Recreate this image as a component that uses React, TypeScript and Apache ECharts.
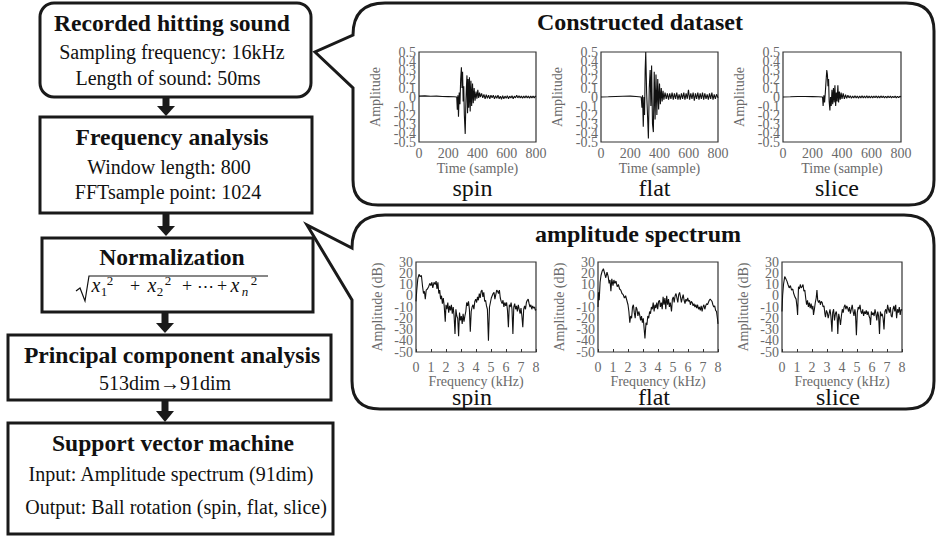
import React, { useEffect, useRef } from "react";
import * as echarts from "echarts";

// ---------- data ----------
const timeTicks = [0, 200, 400, 600, 800];
const freqTicks = [0, 1, 2, 3, 4, 5, 6, 7, 8];
const ampRange = [-0.5, 0.5];
const dbRange = [-50, 30];
const classNames = ["spin", "flat", "slice"];

const spinWave: number[][] = [[0,0.01],[40,0.012],[80,0.008],[120,0.01],[160,0.006],[200,0.004],[240,0.002],[258,0.0],[262,-0.14],[266,0.02],[270,-0.22],[275,0.05],[280,-0.08],[285,0.2],[290,0.33],[294,0.1],[298,0.28],[302,-0.05],[306,0.12],[310,-0.2],[316,-0.41],[320,-0.1],[324,0.1],[328,0.24],[332,-0.18],[336,0.2],[340,-0.12],[345,0.22],[350,-0.16],[355,0.18],[360,-0.1],[366,0.15],[371,-0.07],[377,0.1],[383,-0.04],[390,0.06],[396,-0.02],[402,0.08],[408,-0.01],[414,0.05],[420,0.0],[428,0.04],[436,-0.01],[444,0.03],[452,-0.02],[460,0.025],[468,-0.015],[476,0.02],[484,-0.02],[492,0.02],[500,-0.01],[508,0.02],[516,-0.02],[524,0.015],[532,-0.015],[540,0.02],[548,-0.02],[556,0.01],[564,-0.025],[572,0.015],[580,-0.02],[588,0.01],[596,-0.015],[604,0.015],[612,-0.02],[620,0.01],[628,-0.01],[636,0.015],[644,-0.02],[652,0.01],[660,-0.01],[668,0.02],[676,-0.01],[684,0.015],[692,-0.01],[700,0.01],[708,-0.015],[716,0.01],[724,-0.01],[732,0.015],[740,-0.01],[748,0.01],[756,-0.015],[764,0.01],[772,-0.01],[780,0.012],[788,-0.01],[796,0.01],[800,0.005]];

const flatWave: number[][] = [[0,0.0],[50,0.002],[100,0.005],[150,0.008],[200,0.01],[240,0.005],[275,0.0],[280,-0.12],[284,0.02],[289,-0.33],[294,0.0],[298,-0.2],[302,0.3],[306,0.5],[312,0.05],[318,-0.2],[324,-0.46],[330,0.1],[336,0.3],[341,-0.1],[346,0.35],[352,-0.3],[358,-0.39],[364,0.28],[370,-0.25],[376,0.25],[382,-0.2],[388,0.2],[394,-0.14],[400,0.15],[406,-0.08],[412,0.1],[418,-0.05],[424,0.07],[430,-0.03],[438,0.05],[446,-0.02],[454,0.04],[462,-0.03],[470,0.04],[478,-0.02],[486,0.05],[494,-0.03],[502,0.04],[510,-0.02],[518,0.05],[526,-0.03],[534,0.03],[542,-0.03],[550,0.04],[558,-0.02],[566,0.05],[574,-0.03],[582,0.04],[590,-0.02],[598,0.08],[606,-0.03],[614,0.04],[622,-0.02],[630,0.05],[638,-0.04],[646,0.04],[654,-0.02],[662,0.05],[670,-0.03],[678,0.04],[686,-0.02],[694,0.05],[702,-0.03],[710,0.04],[718,-0.02],[726,0.03],[734,-0.03],[742,0.04],[750,-0.02],[758,0.05],[766,-0.03],[774,0.03],[782,-0.02],[790,0.03],[800,-0.01]];

const sliceWave: number[][] = [[0,0.0],[50,0.002],[100,0.005],[150,0.006],[200,0.004],[240,0.002],[268,0.0],[272,-0.1],[277,0.02],[282,-0.06],[287,0.05],[292,0.18],[297,0.3],[301,0.25],[305,0.12],[309,0.2],[313,-0.05],[318,-0.15],[322,0.0],[327,-0.1],[332,0.08],[337,-0.08],[342,0.1],[347,-0.06],[352,0.13],[357,-0.1],[362,0.05],[367,-0.05],[372,0.13],[377,-0.06],[382,0.06],[388,-0.03],[394,0.05],[400,-0.02],[408,0.04],[416,-0.02],[424,0.025],[432,-0.015],[440,0.02],[448,-0.01],[456,0.015],[464,-0.015],[472,0.01],[480,-0.01],[488,0.015],[496,-0.01],[504,0.01],[512,-0.015],[520,0.012],[528,-0.01],[536,0.015],[544,-0.01],[552,0.01],[560,-0.012],[568,0.015],[576,-0.01],[584,0.01],[592,-0.012],[600,0.012],[608,-0.01],[616,0.01],[624,-0.008],[632,0.012],[640,-0.01],[648,0.01],[656,-0.01],[664,0.012],[672,-0.008],[680,0.01],[688,-0.01],[696,0.008],[704,-0.01],[712,0.01],[720,-0.008],[728,0.01],[736,-0.01],[744,0.008],[752,-0.008],[760,0.01],[768,-0.01],[776,0.008],[784,-0.008],[792,0.008],[800,0.0]];

const spinSpectrum: number[][] = [[0,-5],[0.05,5],[0.12,15],[0.2,19],[0.28,17],[0.36,18],[0.44,8],[0.5,2],[0.56,4],[0.62,-3],[0.68,5],[0.76,6],[0.84,8],[0.92,11],[1.0,9],[1.06,12],[1.12,7],[1.2,12],[1.28,10],[1.34,13],[1.4,6],[1.46,12],[1.52,2],[1.58,5],[1.64,-3],[1.7,0],[1.76,-7],[1.82,-2],[1.88,-9],[1.95,-23],[2.0,-8],[2.06,-12],[2.12,-6],[2.18,-15],[2.24,-9],[2.3,-13],[2.36,-8],[2.42,-16],[2.48,-10],[2.54,-18],[2.6,-34],[2.66,-12],[2.72,-18],[2.78,-20],[2.84,-36],[2.9,-15],[2.96,-22],[3.02,-18],[3.08,-25],[3.14,-16],[3.2,-23],[3.26,-18],[3.32,-14],[3.38,-6],[3.44,-9],[3.5,-5],[3.56,-12],[3.62,-32],[3.68,-14],[3.74,-10],[3.8,-8],[3.86,-12],[3.92,-5],[3.98,-3],[4.04,-6],[4.1,-1],[4.16,-4],[4.22,2],[4.28,-2],[4.34,4],[4.4,5],[4.46,-1],[4.52,3],[4.58,-5],[4.64,-4],[4.7,-9],[4.76,-12],[4.83,-40],[4.9,-10],[4.96,-6],[5.02,-2],[5.08,0],[5.14,2],[5.2,3],[5.26,-3],[5.32,1],[5.38,5],[5.44,4],[5.5,2],[5.56,5],[5.62,-2],[5.68,-5],[5.74,-7],[5.8,-4],[5.86,-10],[5.92,-6],[5.98,-9],[6.04,-6],[6.1,-13],[6.16,-28],[6.22,-8],[6.28,-10],[6.34,-6],[6.4,-12],[6.46,-34],[6.52,-10],[6.58,-7],[6.64,-12],[6.7,-9],[6.76,-14],[6.82,-8],[6.88,-12],[6.94,-16],[7.0,-11],[7.06,-18],[7.12,-28],[7.18,-12],[7.24,-9],[7.3,-12],[7.36,-6],[7.42,-4],[7.48,-3],[7.54,-7],[7.6,-10],[7.66,-8],[7.72,-12],[7.78,-9],[7.84,-11],[7.9,-10],[7.96,-13],[8,-12]];

const flatSpectrum: number[][] = [[0,-10],[0.03,3],[0.08,-4],[0.14,12],[0.2,18],[0.28,22],[0.36,24],[0.44,20],[0.52,16],[0.6,21],[0.68,17],[0.74,11],[0.8,14],[0.86,4],[0.92,15],[1.0,9],[1.06,14],[1.12,11],[1.2,13],[1.28,8],[1.36,10],[1.44,6],[1.52,5],[1.6,2],[1.68,1],[1.76,-2],[1.84,0],[1.92,-4],[2.0,-8],[2.06,-14],[2.12,-24],[2.18,-18],[2.24,-20],[2.3,-10],[2.36,-8],[2.42,-15],[2.48,-20],[2.54,-10],[2.6,-12],[2.66,-18],[2.72,-14],[2.78,-17],[2.84,-22],[2.9,-18],[2.96,-24],[3.02,-20],[3.08,-30],[3.13,-38],[3.2,-24],[3.26,-26],[3.32,-18],[3.38,-20],[3.44,-14],[3.5,-16],[3.56,-10],[3.62,-12],[3.68,-6],[3.74,-14],[3.8,-8],[3.86,-11],[3.92,-6],[3.98,-12],[4.04,-5],[4.1,-4],[4.16,-10],[4.22,-6],[4.28,-12],[4.34,-1],[4.4,-8],[4.46,-2],[4.52,-12],[4.58,0],[4.64,-8],[4.7,-3],[4.76,-10],[4.82,-6],[4.9,-14],[4.96,-3],[5.02,-1],[5.08,-6],[5.14,0],[5.2,2],[5.26,-2],[5.32,-6],[5.38,1],[5.44,3],[5.5,-1],[5.56,-6],[5.62,-2],[5.68,1],[5.74,-4],[5.8,-7],[5.86,-3],[5.92,-5],[5.98,-2],[6.04,-5],[6.1,-4],[6.16,-8],[6.22,-5],[6.28,-6],[6.34,-9],[6.4,-7],[6.46,-10],[6.52,-8],[6.58,-11],[6.64,-8],[6.7,-12],[6.76,-10],[6.82,-13],[6.88,-9],[6.94,-14],[7.0,-10],[7.06,-8],[7.12,-12],[7.18,-9],[7.24,-7],[7.3,-8],[7.36,-6],[7.42,-4],[7.48,-3],[7.54,-4],[7.6,-5],[7.66,-8],[7.72,-10],[7.78,-9],[7.84,-13],[7.9,-14],[7.96,-20],[8,-25]];

const sliceSpectrum: number[][] = [[0,-14],[0.04,0],[0.1,10],[0.18,17],[0.26,15],[0.33,13],[0.4,10],[0.48,7],[0.56,9],[0.64,5],[0.72,6],[0.78,2],[0.86,-1],[0.94,-3],[1.0,-10],[1.04,-17],[1.1,8],[1.16,6],[1.22,10],[1.28,7],[1.34,8],[1.4,10],[1.46,4],[1.52,5],[1.58,-2],[1.64,-8],[1.7,-4],[1.76,-10],[1.82,-6],[1.88,-11],[1.94,-7],[2.0,-12],[2.06,-9],[2.1,-17],[2.16,-12],[2.22,-6],[2.28,-2],[2.33,5],[2.38,-4],[2.44,-6],[2.5,-4],[2.56,-8],[2.62,-5],[2.68,-6],[2.74,-10],[2.8,-9],[2.86,-16],[2.9,-19],[2.96,-13],[3.02,-15],[3.08,-20],[3.14,-16],[3.2,-12],[3.26,-18],[3.33,-32],[3.38,-15],[3.44,-12],[3.5,-22],[3.56,-16],[3.62,-14],[3.68,-20],[3.72,-34],[3.78,-16],[3.84,-20],[3.9,-26],[3.96,-18],[4.02,-12],[4.08,-15],[4.14,-10],[4.2,-8],[4.26,-12],[4.32,-9],[4.38,-11],[4.44,-14],[4.5,-10],[4.56,-16],[4.62,-12],[4.68,-8],[4.74,-14],[4.8,-18],[4.86,-12],[4.9,-16],[4.96,-35],[5.02,-15],[5.08,-10],[5.14,-12],[5.2,-8],[5.26,-14],[5.32,-16],[5.38,-12],[5.44,-18],[5.5,-14],[5.56,-16],[5.62,-13],[5.68,-17],[5.74,-14],[5.8,-18],[5.86,-20],[5.9,-26],[5.96,-14],[6.02,-17],[6.08,-15],[6.14,-18],[6.2,-12],[6.26,-16],[6.32,-22],[6.38,-14],[6.44,-18],[6.5,-34],[6.56,-14],[6.62,-18],[6.68,-16],[6.74,-20],[6.8,-30],[6.86,-14],[6.92,-12],[6.98,-16],[7.04,-8],[7.1,-12],[7.16,-15],[7.22,-10],[7.28,-18],[7.34,-19],[7.4,-12],[7.46,-9],[7.52,-14],[7.58,-8],[7.64,-20],[7.7,-12],[7.76,-15],[7.82,-10],[7.88,-17],[7.94,-12],[8,-13]];

const waves = [spinWave, flatWave, sliceWave];
const spectra = [spinSpectrum, flatSpectrum, sliceSpectrum];

// ---------- shapes ----------
const FAM = "Liberation Serif";
const SERIF = '"Liberation Serif", serif';
const calloutTopD =
  "M 353 35 Q 353 3 385 3 L 906 3 Q 934 3 934 31 L 934 180 Q 934 205 909 205 L 378 205 Q 353 205 353 180 L 353 88 L 315 52 Z";
const calloutBottomD =
  "M 352 248 Q 352 215 385 215 L 904 215 Q 934 215 934 245 L 934 381 Q 934 409 906 409 L 380 409 Q 352 409 352 381 L 352 300 L 307 225 Z";
echarts.graphic.registerShape("calloutTop", echarts.graphic.extendPath(calloutTopD, {}));
echarts.graphic.registerShape("calloutBottom", echarts.graphic.extendPath(calloutBottomD, {}));

// ---------- layout ----------
const topGrids = [
  { left: 419, top: 52, width: 117, height: 90 },
  { left: 601, top: 52, width: 117, height: 90 },
  { left: 783, top: 52, width: 118, height: 90 },
];
const botGrids = [
  { left: 416, top: 262, width: 120, height: 90 },
  { left: 598, top: 262, width: 120, height: 90 },
  { left: 782, top: 262, width: 120, height: 90 },
];

const AX_COLOR = "#6a6a6a";
const FRAME = "#333";

function txt(text: string, x: number, y: number, font: string, fill = "#111", align = "center") {
  return {
    type: "text",
    x,
    y,
    style: {
      text,
      font,
      fill,
      align,
      textAlign: align,
      verticalAlign: "middle",
      textVerticalAlign: "middle",
    },
  };
}

function rectEl(x: number, y: number, w: number, h: number, r = 0) {
  return {
    type: "rect",
    shape: { x, y, width: w, height: h, r },
    style: { fill: "none", stroke: "#1a1a1a", lineWidth: 3 },
  };
}

function arrow(cx: number, y0: number, y1: number, y2: number) {
  return [
    { type: "rect", shape: { x: cx - 3.5, y: y0, width: 7, height: y1 - y0 + 1 }, style: { fill: "#1a1a1a" } },
    { type: "polygon", shape: { points: [[cx - 9, y1], [cx + 9, y1], [cx, y2]] }, style: { fill: "#1a1a1a" } },
  ];
}

function buildOption() {
  const grid: any[] = [];
  const xAxis: any[] = [];
  const yAxis: any[] = [];
  const yAxisEnds: any[] = [];
  const series: any[] = [];
  const labelStyle = { color: AX_COLOR, fontSize: 14, fontFamily: FAM };
  const axisLabelCommon = { ...labelStyle, showMinLabel: true, showMaxLabel: true, hideOverlap: false };
  const fmt = (v: number, d: number) => String(Number(v.toFixed(d)));

  // y axis pair: the inner labels on one axis, the two end labels on a twin axis (so none get dropped)
  function pushY(gridIndex: number, range: number[], interval: number, digits: number, name: string, nameGap: number) {
    const [lo, hi] = range;
    const isEnd = (v: number) => Math.abs(v - lo) < 1e-9 || Math.abs(v - hi) < 1e-9;
    const base = {
      gridIndex, type: "value", min: lo, max: hi, interval, position: "left",
      axisLine: { show: false, onZero: false }, axisTick: { show: false }, splitLine: { show: false },
    };
    yAxis.push({
      ...base,
      axisLabel: { ...labelStyle, margin: 3, showMinLabel: false, showMaxLabel: false, hideOverlap: false,
        formatter: (v: number) => fmt(v, digits) },
      name, nameLocation: "middle", nameGap, nameTextStyle: labelStyle,
    });
    yAxisEnds.push({
      ...base,
      axisLabel: { ...labelStyle, margin: 3, showMinLabel: true, showMaxLabel: true, hideOverlap: false,
        formatter: (v: number) => (isEnd(v) ? fmt(v, digits) : "") },
    });
  }

  topGrids.forEach((g, i) => {
    grid.push({ ...g, show: true, borderColor: FRAME, borderWidth: 1.2 });
    xAxis.push({
      gridIndex: i, type: "value", min: timeTicks[0], max: timeTicks[timeTicks.length - 1], interval: 200,
      axisLine: { show: false, onZero: false }, axisTick: { show: false }, splitLine: { show: false },
      axisLabel: { ...axisLabelCommon, margin: 4 },
      name: "Time (sample)", nameLocation: "middle", nameGap: 19, nameTextStyle: labelStyle,
    });
    pushY(i, ampRange, 0.1, 1, "Amplitude", 37);
    series.push({
      type: "line", xAxisIndex: i, yAxisIndex: i, data: waves[i], showSymbol: false, symbol: "none",
      lineStyle: { color: "#111", width: 1.1 }, clip: true,
    });
  });

  botGrids.forEach((g, j) => {
    const i = j + 3;
    grid.push({ ...g, show: true, borderColor: FRAME, borderWidth: 1.2 });
    xAxis.push({
      gridIndex: i, type: "value", min: freqTicks[0], max: freqTicks[freqTicks.length - 1], interval: 1,
      axisLine: { show: false, onZero: false },
      axisTick: { show: true, inside: true, length: 3, lineStyle: { color: FRAME } },
      splitLine: { show: false },
      axisLabel: { ...axisLabelCommon, margin: 8 },
      name: "Frequency (kHz)", nameLocation: "middle", nameGap: 19, nameTextStyle: labelStyle,
    });
    pushY(i, dbRange, 10, 0, "Amplitude (dB)", 32);
    series.push({
      type: "line", xAxisIndex: i, yAxisIndex: i, data: spectra[j], showSymbol: false, symbol: "none",
      lineStyle: { color: "#111", width: 1.1 }, clip: true,
    });
  });

  const B23 = `bold 23.6px ${SERIF}`;
  const R20 = `20px ${SERIF}`;
  const graphic: any[] = [
    // callouts
    { type: "calloutTop", x: 0, y: 0, style: { fill: "none", stroke: "#1a1a1a", lineWidth: 3 } },
    { type: "calloutBottom", x: 0, y: 0, style: { fill: "none", stroke: "#1a1a1a", lineWidth: 3 } },
    // boxes
    rectEl(40, 3, 271, 94, 14),
    rectEl(40, 117, 272, 96),
    rectEl(42, 238, 271, 74),
    rectEl(8, 335, 323, 65),
    rectEl(8, 423, 325, 111),
    ...arrow(166, 97, 106, 116),
    ...arrow(166, 213, 226, 236),
    ...arrow(165, 312, 323, 333),
    ...arrow(165, 400, 411, 422),
    // box texts
    txt("Recorded hitting sound", 172, 23, B23),
    txt("Sampling frequency: 16kHz", 172, 52, R20),
    txt("Length of sound: 50ms", 168, 78, R20),
    txt("Frequency analysis", 172, 137, B23),
    txt("Window length: 800", 169, 167, R20),
    txt("FFTsample point: 1024", 168, 192, R20),
    txt("Normalization", 172, 257, B23),
    txt("Principal component analysis", 172, 355, B23),
    txt("513dim\u219291dim", 165, 383, R20),
    txt("Support vector machine", 173, 443, B23),
    txt("Input: Amplitude spectrum (91dim)", 171, 474, R20),
    txt("Output: Ball rotation (spin, flat, slice)", 176, 507, R20),
    // normalization formula
    { type: "polyline", shape: { points: [[76, 291], [80, 288], [85, 301], [89, 276], [268, 276]] }, style: { stroke: "#111", lineWidth: 1.2, fill: "none" } },
    txt("x", 96, 285, `italic 20px ${SERIF}`),
    txt("1", 104, 291, `13px ${SERIF}`),
    txt("2", 110, 280, `13px ${SERIF}`),
    txt("+", 135, 286, `18px ${SERIF}`),
    txt("x", 152, 285, `italic 20px ${SERIF}`),
    txt("2", 160, 291, `13px ${SERIF}`),
    txt("2", 168, 280, `13px ${SERIF}`),
    txt("+", 187, 286, `18px ${SERIF}`),
    txt("\u22ef", 205, 286, `17px ${SERIF}`),
    txt("+", 222, 286, `18px ${SERIF}`),
    txt("x", 235, 285, `italic 20px ${SERIF}`),
    txt("n", 245, 291, `italic 13px ${SERIF}`),
    txt("2", 254, 280, `13px ${SERIF}`),
    // callout titles
    txt("Constructed dataset", 640, 22, `bold 24px ${SERIF}`),
    txt("amplitude spectrum", 638, 234, `bold 24px ${SERIF}`),
  ];
  topGrids.forEach((g, i) => {
    graphic.push(txt(classNames[i], g.left + g.width / 2 - 5, 188, `24px ${SERIF}`));
  });
  botGrids.forEach((g, i) => {
    graphic.push(txt(classNames[i], g.left + g.width / 2 - 4, 397, `24px ${SERIF}`));
  });

  return {
    animation: false,
    backgroundColor: "#fff",
    grid,
    xAxis,
    yAxis: [...yAxis, ...yAxisEnds],
    series,
    graphic: { elements: graphic },
  };
}

export default function App() {
  const ref = useRef<HTMLDivElement>(null);
  useEffect(() => {
    if (!ref.current) return;
    const chart = echarts.init(ref.current, null, { renderer: "svg" });
    chart.setOption(buildOption() as any);
    return () => chart.dispose();
  }, []);
  return (
    <div
      ref={ref}
      style={{ position: "fixed", left: 0, top: 0, width: 936, height: 538, background: "#fff" }}
    />
  );
}
